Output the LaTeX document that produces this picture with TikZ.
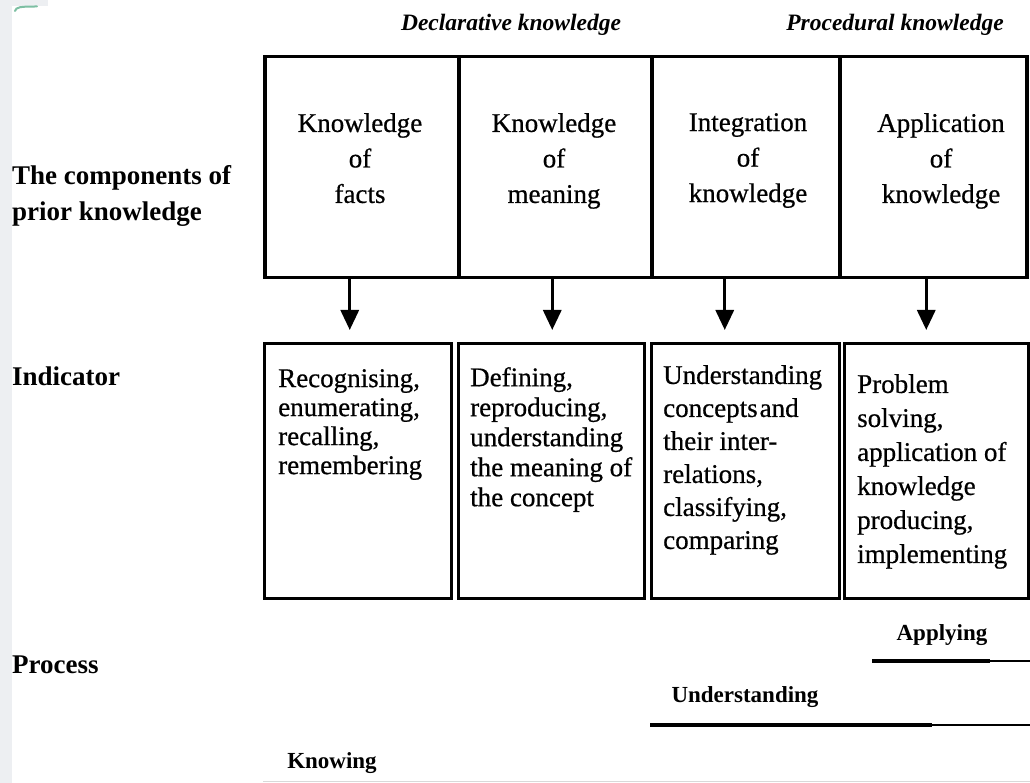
\documentclass[tikz,border=0pt]{standalone}
\usepackage{fontspec}
\setmainfont{Liberation Serif}
\newfontfamily\boxfont{Liberation Serif}[FakeBold=0.6]
\usetikzlibrary{arrows.meta}
\definecolor{stripgray}{HTML}{EDEFF2}
\definecolor{markgreen}{HTML}{7DBFA3}
\begin{document}
\begin{tikzpicture}[x=1pt,y=-1pt,
  compbox/.style={draw, line width=3.5pt, rectangle, inner sep=0pt, anchor=north west, minimum height=221pt},
  indbox/.style={draw, line width=3.2pt, rectangle, inner sep=0pt, anchor=north west, minimum height=255pt},
  comptext/.style={anchor=north, align=center, inner sep=0pt, font=\boxfont\fontsize{27}{35.5}\selectfont},
  indtext/.style={anchor=north west, align=left, inner sep=0pt},
  rowlabel/.style={anchor=north west, align=left, inner sep=0pt, font=\bfseries\fontsize{27}{36.5}\selectfont},
  header/.style={anchor=base, inner sep=0pt, font=\bfseries\itshape\fontsize{23.5}{28}\selectfont},
  proclabel/.style={anchor=base, inner sep=0pt, font=\bfseries\fontsize{23}{28}\selectfont},
  arr/.style={line width=3.2pt, -{Triangle[length=20pt,width=18pt]}, shorten >=12pt},
  bar/.style={line width=4pt},
  barthin/.style={line width=2.6pt}
]
\useasboundingbox (0,0) rectangle (1030,783);
\fill[white] (0,0) rectangle (1030,783);
\fill[stripgray] (0,0) rectangle (12,783);
\fill[stripgray] (0,0) rectangle (48,6);
\draw[markgreen, line width=2pt, line cap=round] (15,11) .. controls (16,7) and (20,6.5) .. (37,6.5);

% headers
\node[header] (decl) at (511,31) {Declarative knowledge};
\node[header] (proc) at (895,31) {Procedural knowledge};

% row labels
\node[rowlabel] (lcomp) at (12,165) {The components of\\prior knowledge};
\node[rowlabel, anchor=base west] (lind) at (12,385) {Indicator};
\node[rowlabel, anchor=base west] (lproc) at (12,673) {Process};

% component boxes
\node[compbox, minimum width=194pt] (c1) at (263,55) {};
\node[compbox, minimum width=193pt] (c2) at (457,55) {};
\node[compbox, minimum width=188pt] (c3) at (650,55) {};
\node[compbox, minimum width=187pt] (c4) at (838,55) {};
\node[comptext] (t1) at (360,113) {Knowledge\\of\\facts};
\node[comptext] (t2) at (554,113) {Knowledge\\of\\meaning};
\node[comptext] (t3) at (748,113) {Integration\\of\\knowledge};
\node[comptext] (t4) at (941,113) {Application\\of\\knowledge};

% indicator boxes
\node[indbox, minimum width=187pt] (i1) at (263,342) {};
\node[indbox, minimum width=186pt] (i2) at (457,342) {};
\node[indbox, minimum width=188pt] (i3) at (650,342) {};
\node[indbox, minimum width=184pt] (i4) at (843,342) {};
\node[indtext, font=\boxfont\fontsize{27}{29}\selectfont] (s1) at (278,369) {Recognising,\\enumerating,\\recalling,\\remembering};
\node[indtext, font=\boxfont\fontsize{27}{30}\selectfont] (s2) at (470,367) {Defining,\\reproducing,\\understanding\\the meaning of\\the concept};
\node[indtext, font=\boxfont\fontsize{27}{33}\selectfont] (s3) at (663,365) {Understanding\\concepts\kern2pt and\\their inter-\\relations,\\classifying,\\comparing};
\node[indtext, font=\boxfont\fontsize{27}{34}\selectfont] (s4) at (857,374) {Problem\\solving,\\application of\\knowledge\\producing,\\implementing};

% arrows
\draw[arr] ([xshift=-12pt]c1.south) -- ([xshift=-12pt]c1.south |- i1.north);
\draw[arr] ([xshift=-3pt]c2.south) -- ([xshift=-3pt]c2.south |- i2.north);
\draw[arr] ([xshift=-21pt]c3.south) -- ([xshift=-21pt]c3.south |- i3.north);
\draw[arr] ([xshift=-7pt]c4.south) -- ([xshift=-7pt]c4.south |- i4.north);

% process levels
\node[proclabel] (papp) at (942,640) {Applying};
\node[proclabel] (pund) at (745,702) {Understanding};
\node[proclabel] (pknow) at (332,768) {Knowing};
\coordinate (a0) at (872,661);
\coordinate (a1) at (990,661);
\coordinate (a2) at (1030,661);
\coordinate (u0) at (650,725);
\coordinate (u1) at (932,725);
\coordinate (u2) at (1030,725);
\coordinate (k0) at (263,781.5);
\coordinate (k1) at (1030,781.5);
\draw[bar] (a0) -- (a1);
\draw[barthin] (a1) -- (a2);
\draw[bar] (u0) -- (u1);
\draw[barthin] (u1) -- (u2);
\draw[gray!30, line width=1.5pt] (k0) -- (k1);
\end{tikzpicture}
\end{document}
